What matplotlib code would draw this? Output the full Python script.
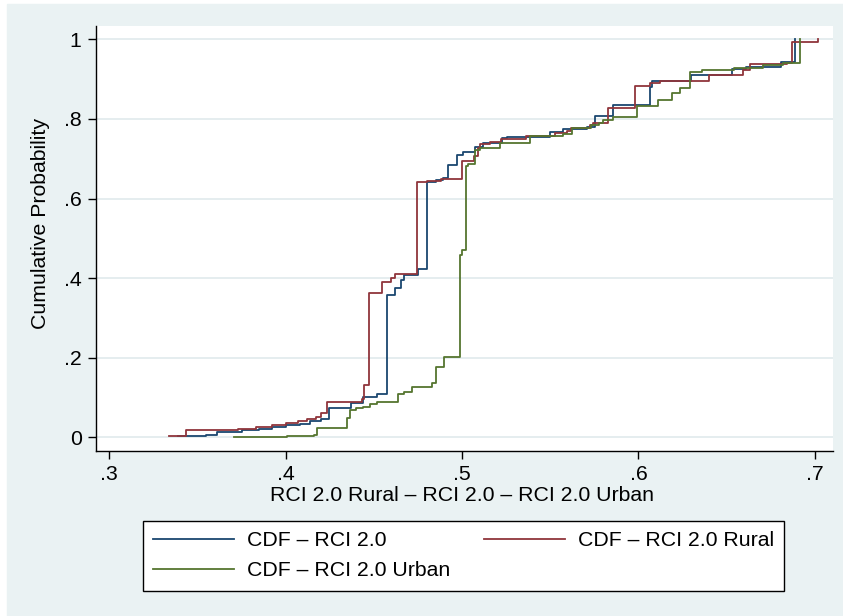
import matplotlib
matplotlib.use("Agg")
import matplotlib.pyplot as plt
from matplotlib.patches import Rectangle
from matplotlib.lines import Line2D

# ECDF step points (x = score, y = cumulative probability)
rci_x = [0.339, 0.355, 0.361, 0.375, 0.385, 0.392, 0.400, 0.408, 0.414, 0.420,
         0.4246, 0.437, 0.444, 0.452, 0.4576, 0.462, 0.4655, 0.467, 0.475, 0.480,
         0.485, 0.489, 0.4922, 0.4969, 0.5005, 0.5073, 0.512, 0.5225, 0.5253, 0.5498,
         0.5574, 0.5706, 0.5753, 0.5857, 0.6065, 0.6075, 0.630, 0.6528, 0.661, 0.681,
         0.6887]
rci_y = [0.002, 0.006, 0.014, 0.018, 0.022, 0.026, 0.030, 0.034, 0.040, 0.045,
         0.073, 0.085, 0.102, 0.108, 0.357, 0.375, 0.395, 0.408, 0.422, 0.642,
         0.646, 0.652, 0.684, 0.709, 0.716, 0.730, 0.740, 0.751, 0.755, 0.768,
         0.774, 0.779, 0.807, 0.834, 0.881, 0.894, 0.910, 0.925, 0.931, 0.944,
         1.0]

rural_x = [0.334, 0.3436, 0.373, 0.383, 0.392, 0.400, 0.407, 0.412, 0.417, 0.420,
           0.4237, 0.4435, 0.4445, 0.447, 0.4475, 0.4548, 0.460, 0.462, 0.4746, 0.480,
           0.488, 0.4998, 0.5066, 0.509, 0.5101, 0.516, 0.522, 0.536, 0.5527, 0.5594,
           0.562, 0.5727, 0.5744, 0.5829, 0.598, 0.6065, 0.612, 0.640, 0.659, 0.663,
           0.684, 0.687, 0.702]
rural_y = [0.003, 0.018, 0.022, 0.027, 0.032, 0.036, 0.041, 0.046, 0.052, 0.060,
           0.089, 0.096, 0.131, 0.337, 0.362, 0.389, 0.400, 0.410, 0.642, 0.645,
           0.648, 0.695, 0.707, 0.726, 0.737, 0.743, 0.750, 0.756, 0.764, 0.770,
           0.776, 0.785, 0.789, 0.827, 0.883, 0.889, 0.896, 0.910, 0.923, 0.938,
           0.940, 0.994, 1.0]

urban_x = [0.3706, 0.401, 0.416, 0.4175, 0.435, 0.4365, 0.440, 0.444, 0.448, 0.452,
           0.4637, 0.467, 0.4718, 0.4827, 0.485, 0.4897, 0.4991, 0.500, 0.5022, 0.5035,
           0.5073, 0.510, 0.5215, 0.5385, 0.557, 0.5621, 0.5733, 0.5775, 0.580, 0.5857,
           0.599, 0.6112, 0.6188, 0.6235, 0.6292, 0.6358, 0.654, 0.6708, 0.6821, 0.6916]
urban_y = [0.001, 0.003, 0.005, 0.023, 0.048, 0.069, 0.073, 0.077, 0.084, 0.088,
           0.110, 0.113, 0.127, 0.136, 0.177, 0.201, 0.458, 0.470, 0.682, 0.687,
           0.722, 0.728, 0.739, 0.757, 0.761, 0.776, 0.785, 0.790, 0.797, 0.806,
           0.833, 0.848, 0.866, 0.877, 0.919, 0.923, 0.928, 0.936, 0.941, 1.0]

labels = ["CDF \u2013 RCI 2.0", "CDF \u2013 RCI 2.0 Rural", "CDF \u2013 RCI 2.0 Urban"]
xticks = [0.3, 0.4, 0.5, 0.6, 0.7]
xticklabels = [".3", ".4", ".5", ".6", ".7"]
yticks = [0, 0.2, 0.4, 0.6, 0.8, 1.0]
yticklabels = ["0", ".2", ".4", ".6", ".8", "1"]

navy = "#1A476F"
maroon = "#90353B"
green = "#55752F"
bg = "#EAF2F3"

plt.rcParams["font.family"] = ["Liberation Sans", "DejaVu Sans"]
fs = 15.3

W, H = 843, 616
fig = plt.figure(figsize=(W / 100, H / 100), dpi=100)
fig.patch.set_facecolor("white")
fig.add_artist(Rectangle((7 / W, 0), (W - 7) / W, (H - 4) / H,
                         transform=fig.transFigure, color=bg, zorder=0))

ax = fig.add_axes([95.5 / W, 1 - 450.7 / H, 737 / W, 425.2 / H])
ax.set_facecolor("white")

lw = 1.3
ax.step(rci_x, rci_y, where="post", color=navy, lw=lw, zorder=3)
ax.step(rural_x, rural_y, where="post", color=maroon, lw=lw, zorder=3)
ax.step(urban_x, urban_y, where="post", color=green, lw=lw, zorder=3)

ax.set_xlim(0.2922, 0.71)
ax.set_ylim(-0.0337, 1.0347)
ax.set_xticks(xticks)
ax.set_xticklabels(xticklabels)
ax.set_yticks(yticks)
ax.set_yticklabels(yticklabels)
ax.tick_params(direction="out", length=6, width=1, labelsize=fs, pad=4, color="black")
ax.grid(axis="y", color="#E3ECEE", lw=1.3, zorder=0)
ax.set_axisbelow(True)

for s in ["top", "right"]:
    ax.spines[s].set_visible(False)
for s in ["left", "bottom"]:
    ax.spines[s].set_linewidth(1.0)

ax.set_xlabel("RCI 2.0 Rural \u2013 RCI 2.0 \u2013 RCI 2.0 Urban", fontsize=fs)
ax.xaxis.set_label_coords(0.497, -0.083)
ax.set_ylabel("Cumulative Probability", fontsize=fs)
ax.yaxis.set_label_coords(-0.062, 0.535)

handles = [Line2D([], [], color=navy, lw=lw),
           Line2D([], [], color=green, lw=lw),
           Line2D([], [], color=maroon, lw=lw)]
hl = [labels[0], labels[2], labels[1]]
leg = fig.legend(handles, hl, ncol=2, mode="expand", loc="upper left",
                 bbox_to_anchor=(142.7 / W, 1 - 590 / H, 641.6 / W, 69.3 / H),
                 fontsize=fs, frameon=True, fancybox=False, framealpha=1,
                 edgecolor="black", borderpad=0.5, labelspacing=0.5,
                 handlelength=3.8, handletextpad=0.6, borderaxespad=0)
leg.get_frame().set_linewidth(1.0)

fig.savefig("out.png", dpi=100)
